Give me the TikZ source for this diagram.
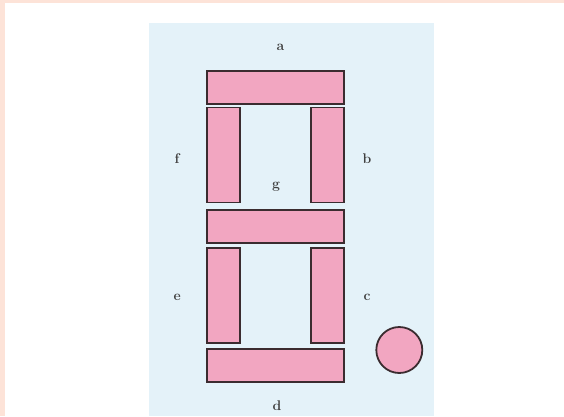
\documentclass[tikz,border=0pt]{standalone}
\usepackage{xcolor}
\usetikzlibrary{calc, positioning}
\definecolor{peach}{HTML}{FDE3D8}
\definecolor{panel}{HTML}{E4F2F9}
\definecolor{segpink}{HTML}{F2A6C1}
\definecolor{segline}{HTML}{3B2C30}
\begin{document}
\begin{tikzpicture}[x=1pt, y=-1pt,
  hseg/.style={draw=segline, fill=segpink, line width=1.8pt, rectangle, inner sep=0pt, minimum width=137pt, minimum height=33pt},
  vseg/.style={draw=segline, fill=segpink, line width=1.8pt, rectangle, inner sep=0pt, minimum width=33pt, minimum height=95pt},
  lbl/.style={inner sep=0pt, font=\fontsize{14}{16}\selectfont\bfseries, text=black!75}]
\useasboundingbox (0,0) rectangle (564,416);
\fill[white] (0,0) rectangle (564,416);
\fill[peach] (0,0) rectangle (564,3);
\fill[peach] (0,0) rectangle (5,416);
\fill[panel] (149,23) rectangle (433.5,416);
\node[hseg] (A) at (275.2,87.5) {};
\node[vseg] (F) at (223.5,155) {};
\node[vseg] (B) at (327.5,155) {};
\node[hseg] (G) at (275.2,226.2) {};
\node[vseg] (E) at (223.5,295.8) {};
\node[vseg] (C) at (327.5,295.8) {};
\node[hseg] (D) at (275.2,365.8) {};
\node[draw=segline, fill=segpink, line width=1.8pt, circle, inner sep=0pt, minimum size=46pt] (DP) at (399.3,350) {};
\node[lbl] (la) at (280.5,47.7) {a};
\node[lbl] (lf) at (177,158.3) {f};
\node[lbl] (lb) at (367,158.3) {b};
\node[lbl] (lg) at (276,186.7) {g};
\node[lbl] (le) at (177.3,297.7) {e};
\node[lbl] (lc) at (367,297.7) {c};
\node[lbl] (ld) at (277,406) {d};
\end{tikzpicture}
\end{document}
